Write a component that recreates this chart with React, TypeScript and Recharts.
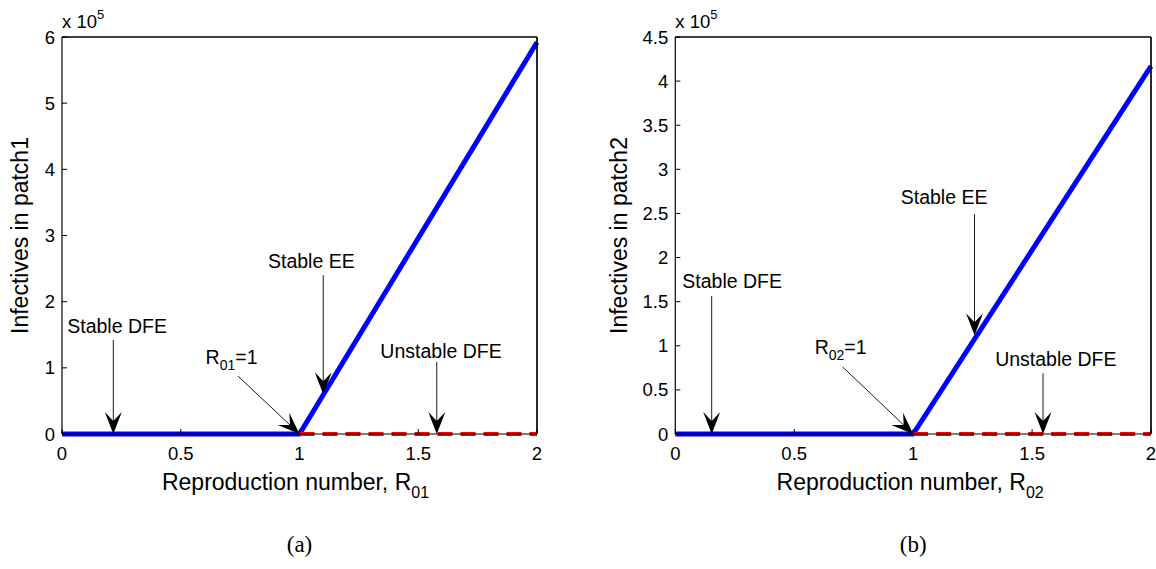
import React from "react";
import { LineChart, Line, XAxis, YAxis, ReferenceLine, ReferenceDot } from "recharts";

const FONT = '"Liberation Sans", Arial, Helvetica, sans-serif';

const xTicks = [0, 0.5, 1, 1.5, 2];
const yTicksA = [0, 1, 2, 3, 4, 5, 6];
const yTicksB = [0, 0.5, 1, 1.5, 2, 2.5, 3, 3.5, 4, 4.5];

// reproduction number where the branches are sampled
const r0Stable = [0, 1, 2];
const r0Unstable = [1, 2];
// infectives, in units of 10^5
const stableA = [0, 0, 5.92];
const stableB = [0, 0, 4.17];
const unstableDFE = [0, 0];

// text arrows: label at (tx, ty), arrow from (ax1, ay1) to (ax2, ay2), data units
const notesA = [
  { text: "Stable DFE", tx: 0.232, ty: 1.53, ax1: 0.216, ay1: 1.42, ax2: 0.216, ay2: 0 },
  { text: "R", sub: "01", rest: "=1", tx: 0.714, ty: 1.06, ax1: 0.741, ay1: 0.876, ax2: 1, ay2: 0 },
  { text: "Stable EE", tx: 1.05, ty: 2.51, ax1: 1.1, ay1: 2.4, ax2: 1.1, ay2: 0.6 },
  { text: "Unstable DFE", tx: 1.596, ty: 1.15, ax1: 1.578, ay1: 1.09, ax2: 1.578, ay2: 0 },
];
const notesB = [
  { text: "Stable DFE", tx: 0.239, ty: 1.655, ax1: 0.153, ay1: 1.564, ax2: 0.153, ay2: 0 },
  { text: "R", sub: "02", rest: "=1", tx: 0.695, ty: 0.907, ax1: 0.704, ay1: 0.759, ax2: 1, ay2: 0 },
  { text: "Stable EE", tx: 1.13, ty: 2.607, ax1: 1.258, ay1: 2.49, ax2: 1.258, ay2: 1.12 },
  { text: "Unstable DFE", tx: 1.6, ty: 0.771, ax1: 1.546, ay1: 0.69, ax2: 1.546, ay2: 0 },
];

type Note = { text: string; sub?: string; rest?: string; tx: number; ty: number; ax1: number; ay1: number; ax2: number; ay2: number };

function Arrow(p: any) {
  const { x1, y1, x2, y2 } = p;
  const a = Math.atan2(y2 - y1, x2 - x1);
  const deg = (a * 180) / Math.PI;
  return (
    <g>
      <line x1={x1} y1={y1} x2={x2 - 12 * Math.cos(a)} y2={y2 - 12 * Math.sin(a)} stroke="#000" strokeWidth={0.9} />
      <path d="M0,0 L-22,-8.5 L-13,0 L-22,8.5 Z" transform={`translate(${x2},${y2}) rotate(${deg})`} fill="#000" />
    </g>
  );
}

function noteShape(n: Note) {
  return (p: any) => (
    <text x={p.cx} y={p.cy} textAnchor="middle" fontFamily={FONT} fontSize={19.5} fill="#000">
      {n.text}
      {n.sub && (
        <>
          <tspan dy={6} fontSize={14}>{n.sub}</tspan>
          <tspan dy={-6}>{n.rest}</tspan>
        </>
      )}
    </text>
  );
}

function XTitle({ viewBox, sub, caption, shift }: any) {
  const vb = viewBox || { x: 0, y: 0, width: 0 };
  const cx = vb.x + vb.width / 2 + shift;
  return (
    <g>
      <text x={cx} y={vb.y + 56} textAnchor="middle" fontFamily={FONT} fontSize={23} fill="#000">
        Reproduction number, R<tspan dy={8} fontSize={16}>{sub}</tspan>
      </text>
      <text x={vb.x + vb.width / 2} y={vb.y + 118} textAnchor="middle" fontFamily='"Liberation Serif", "Times New Roman", serif' fontSize={23} fill="#000">
        {caption}
      </text>
    </g>
  );
}

function YTitle({ viewBox, title, titleX }: any) {
  const vb = viewBox || { x: 0, y: 0, width: 0, height: 0 };
  const cy = vb.y + vb.height / 2;
  const left = vb.x + vb.width;
  return (
    <g>
      <text x={titleX} y={cy} transform={`rotate(-90, ${titleX}, ${cy})`} textAnchor="middle" fontFamily={FONT} fontSize={23} fill="#000">
        {title}
      </text>
      <text x={left} y={vb.y - 9} fontFamily={FONT} fontSize={18.5} fill="#000">
        x 10<tspan dy={-9} fontSize={13}>5</tspan>
      </text>
    </g>
  );
}

function Panel(props: {
  left: number; width: number; marginLeft: number; marginRight: number;
  yMax: number; yTicks: number[]; stable: number[]; notes: Note[];
  sub: string; caption: string; title: string; titleX: number; shift: number;
}) {
  const { left, width, marginLeft, marginRight, yMax, yTicks, stable, notes, sub, caption, title, titleX, shift } = props;
  const stableData = r0Stable.map((x, i) => ({ x, y: stable[i] }));
  const unstableData = r0Unstable.map((x, i) => ({ x, y: unstableDFE[i] }));
  const tick = { fill: "#000", fontSize: 18.5, fontFamily: FONT };
  const axisLine = { stroke: "#000", strokeWidth: 1.2 };
  return (
    <div style={{ position: "absolute", left, top: 0 }}>
      <LineChart width={width} height={569} margin={{ top: 36, right: marginRight - 1, bottom: 0, left: marginLeft }}>
        <XAxis
          type="number" dataKey="x" domain={[0, 2]} ticks={xTicks}
          tickSize={-5} tickMargin={18} height={135} tick={tick} axisLine={axisLine} tickLine={{ stroke: "#000" }}
          label={<XTitle sub={sub} caption={caption} shift={shift} />}
        />
        <XAxis
          xAxisId="top" orientation="top" type="number" domain={[0, 2]} ticks={xTicks}
          tickSize={-5} height={1} tickFormatter={() => ""} axisLine={axisLine} tickLine={{ stroke: "#000" }}
        />
        <YAxis
          type="number" domain={[0, yMax]} ticks={yTicks}
          tickSize={-5} tickMargin={12} width={50} tick={tick} axisLine={axisLine} tickLine={{ stroke: "#000" }}
          label={<YTitle title={title} titleX={titleX} />}
        />
        <YAxis
          yAxisId="right" orientation="right" type="number" domain={[0, yMax]} ticks={yTicks}
          tickSize={-5} width={1} tickFormatter={() => ""} axisLine={axisLine} tickLine={{ stroke: "#000" }}
        />
        <ReferenceLine y={yMax} stroke="#000" strokeWidth={1.2} ifOverflow="visible" />
        <ReferenceLine x={2} stroke="#000" strokeWidth={1.2} ifOverflow="visible" />
        <Line data={stableData} dataKey="y" type="linear" stroke="#0000ff" strokeWidth={5} dot={false} isAnimationActive={false} />
        <Line data={unstableData} dataKey="y" type="linear" stroke="#ff0000" strokeWidth={4} strokeDasharray="15 8" dot={false} isAnimationActive={false} />
        {notes.map((n, i) => (
          <ReferenceLine
            key={`a${i}`}
            segment={[{ x: n.ax1, y: n.ay1 }, { x: n.ax2, y: n.ay2 }]}
            ifOverflow="visible"
            shape={Arrow}
          />
        ))}
        {notes.map((n, i) => (
          <ReferenceDot key={`t${i}`} x={n.tx} y={n.ty} r={0} ifOverflow="visible" shape={noteShape(n)} />
        ))}
      </LineChart>
    </div>
  );
}

export default function App() {
  return (
    <div style={{ position: "absolute", left: 0, top: 0, width: 1156, height: 569, background: "#fff" }}>
      <Panel
        left={0} width={560} marginLeft={12} marginRight={23}
        yMax={6} yTicks={yTicksA} stable={stableA} notes={notesA}
        sub="01" caption="(a)" title="Infectives in patch1" titleX={28} shift={-4}
      />
      <Panel
        left={600} width={556} marginLeft={25.3} marginRight={5}
        yMax={4.5} yTicks={yTicksB} stable={stableB} notes={notesB}
        sub="02" caption="(b)" title="Infectives in patch2" titleX={27} shift={-3}
      />
    </div>
  );
}
